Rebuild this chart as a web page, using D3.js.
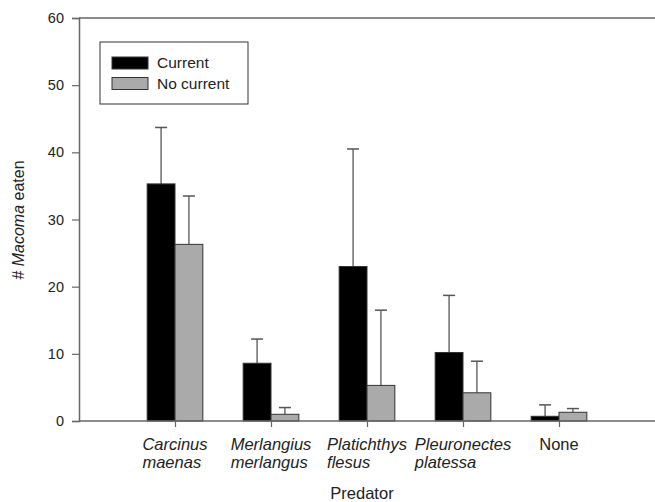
<!DOCTYPE html>
<html><head><meta charset="utf-8">
<script src="https://cdn.jsdelivr.net/npm/d3@7"></script>
<style>body{margin:0;background:#fff}svg{display:block}text{font-family:"Liberation Sans",Arial,sans-serif;fill:#222}</style>
</head><body><svg id="c" width="655" height="502"></svg>
<script>
const categories = [["Carcinus","maenas"],["Merlangius","merlangus"],["Platichthys","flesus"],["Pleuronectes","platessa"],["None"]];
const italicCats = [true,true,true,true,false];
const currentMean = [35.3, 8.6, 23.0, 10.2, 0.7];
const currentErr  = [43.7, 12.2, 40.5, 18.7, 2.4];
const noCurrentMean = [26.3, 1.0, 5.3, 4.2, 1.3];
const noCurrentErr  = [33.5, 2.0, 16.5, 8.9, 1.85];
const yTicks = [0,10,20,30,40,50,60];
const seriesNames = ["Current","No current"];
const colors = ["#000000","#aaaaaa"];

const svg = d3.select("#c");
const x = d3.scaleLinear().domain([0,6]).range([79,655]);
const y = d3.scaleLinear().domain([0,60]).range([421,18]);
const bw = x(0.29)-x(0);

svg.append("line").attr("x1",79).attr("x2",655).attr("y1",y(60)).attr("y2",y(60)).attr("stroke","#666").attr("stroke-width",1.5);
const yAxis = svg.append("g").attr("transform","translate(79,0)")
  .call(d3.axisLeft(y).tickValues(yTicks).tickSize(7).tickPadding(8));
yAxis.select(".domain").attr("stroke","#666").attr("stroke-width",1.5);
yAxis.selectAll(".tick line").attr("stroke","#666").attr("stroke-width",1.2);
yAxis.selectAll("text").style("font-size","14.5px").attr("fill","#222");

const series = [
  {name:seriesNames[0], mean:currentMean, err:currentErr, color:colors[0], off:-1},
  {name:seriesNames[1], mean:noCurrentMean, err:noCurrentErr, color:colors[1], off:0}
];
series.forEach(s=>{
  const g = svg.append("g");
  s.mean.forEach((m,i)=>{
    const cx = x(i+1) + s.off*bw;
    const ex = cx + bw/2;
    g.append("line").attr("x1",ex).attr("x2",ex).attr("y1",y(m)).attr("y2",y(s.err[i])).attr("stroke","#555").attr("stroke-width",1.3);
    g.append("line").attr("x1",ex-6).attr("x2",ex+6).attr("y1",y(s.err[i])).attr("y2",y(s.err[i])).attr("stroke","#555").attr("stroke-width",1.5);
    g.append("rect").attr("x",cx).attr("width",bw).attr("y",y(m)).attr("height",y(0)-y(m))
      .attr("fill",s.color).attr("stroke","#333").attr("stroke-width",1);
  });
});

const xAxis = svg.append("g").attr("transform",`translate(0,${y(0)})`)
  .call(d3.axisBottom(x).tickValues([1,2,3,4,5]).tickSize(6).tickFormat(""));
xAxis.select(".domain").attr("stroke","#666").attr("stroke-width",1.5).attr("d",`M79,0H655`);
xAxis.selectAll(".tick line").attr("stroke","#666").attr("stroke-width",1.2);

categories.forEach((lines,i)=>{
  const t = svg.append("text").attr("text-anchor","start")
    .attr("font-style", italicCats[i] ? "italic" : "normal").style("font-size","16.5px");
  const spans = lines.map((ln,j)=> t.append("tspan").attr("y",450+j*18).text(ln));
  const w = spans[0].node().getComputedTextLength();
  spans.forEach(sp=>sp.attr("x", x(i+1) - w/2));
});

svg.append("text").attr("x",362).attr("y",499).attr("text-anchor","middle").style("font-size","16.5px").text("Predator");
const yl = svg.append("text").attr("transform","translate(24,220) rotate(-90)").attr("text-anchor","middle").style("font-size","16px");
yl.append("tspan").text("# ");
yl.append("tspan").attr("font-style","italic").text("Macoma");
yl.append("tspan").text(" eaten");

const lg = svg.append("g");
lg.append("rect").attr("x",100).attr("y",42).attr("width",148).attr("height",62).attr("fill","#fff").attr("stroke","#333").attr("stroke-width",1);
series.forEach((s,i)=>{
  lg.append("rect").attr("x",112).attr("y",57+i*20.5).attr("width",36).attr("height",12).attr("fill",s.color).attr("stroke","#333");
  lg.append("text").attr("x",157).attr("y",68+i*20.5).style("font-size","15.5px").text(s.name);
});
</script></body></html>
